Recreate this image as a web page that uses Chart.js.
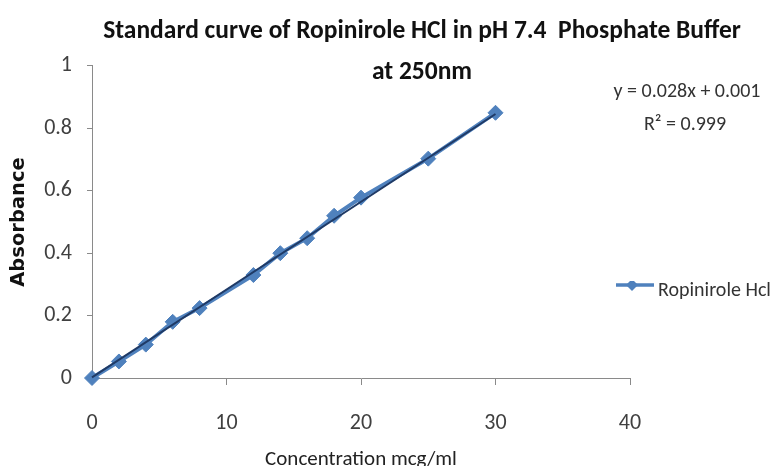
<!DOCTYPE html>
<html><head><meta charset="utf-8">
<script src="https://cdn.jsdelivr.net/npm/chart.js@4/dist/chart.umd.min.js"></script>
<style>html,body{margin:0;padding:0;background:#fff;overflow:hidden}#wrap{width:774px;height:466px}</style>
</head><body><div id="wrap"><canvas id="c" width="774" height="466"></canvas></div>
<script>
const concentrations = [0, 2, 4, 6, 8, 12, 14, 16, 18, 20, 25, 30];
const absorbance = [0, 0.053, 0.107, 0.18, 0.224, 0.33, 0.4, 0.448, 0.52, 0.578, 0.703, 0.85];
const trendX = [0, 30];
const trendY = [0.002, 0.846];
const xTicks = [0, 10, 20, 30, 40];
const xTickLabels = ['0', '10', '20', '30', '40'];
const yTicks = [0, 0.2, 0.4, 0.6, 0.8, 1];
const yTickLabels = ['0', '0.2', '0.4', '0.6', '0.8', '1'];
const seriesName = 'Ropinirole Hcl';
const titleLines = ['Standard curve of Ropinirole HCl in pH 7.4  Phosphate Buffer', 'at 250nm'];
const equationLines = ['y = 0.028x + 0.001', 'R\u00B2 = 0.999'];
const xTitle = 'Concentration mcg/ml';
const yTitle = 'Absorbance';

const BLUE = '#4F81BD';
const NAVY = '#1F3A66';
const AXIS = '#8A8A8A';
const CAL = 'Carlito, "Liberation Sans", sans-serif';

// legend symbol: line with a diamond (drawn slightly above the text middle)
const sym = document.createElement('canvas');
sym.width = 46; sym.height = 26;
(function(){
  const g = sym.getContext('2d');
  g.strokeStyle = BLUE; g.lineWidth = 3.5;
  g.beginPath(); g.moveTo(1, 7); g.lineTo(45, 7); g.stroke();
  g.fillStyle = BLUE;
  g.beginPath(); g.moveTo(17, 7); g.lineTo(23, 1); g.lineTo(29, 7); g.lineTo(23, 13); g.closePath(); g.fill();
})();

const placePlugin = {
  id: 'place',
  afterLayout(chart) {
    const t = chart.titleBlock;
    if (t) { t.left = 70; t.right = 774; }
    const lg = chart.legend;
    if (lg) { lg.left = 616; lg.top = 281; lg.right = 900; lg.bottom = 305; }
  },
  afterDraw(chart) {
    const ctx = chart.ctx;
    ctx.save();
    ctx.font = '20px ' + CAL;
    ctx.fillStyle = '#333333';
    ctx.textAlign = 'center';
    ctx.textBaseline = 'middle';
    ctx.fillText(equationLines[0], 687, 92);
    ctx.fillText(equationLines[1], 685, 125);
    ctx.restore();
  }
};

const chart = new Chart(document.getElementById('c'), {
  type: 'line',
  data: {
    datasets: [
      {
        label: 'Linear (' + seriesName + ')',
        data: trendX.map((x, i) => ({ x: x, y: trendY[i] })),
        borderColor: NAVY, borderWidth: 2, pointRadius: 0, pointHoverRadius: 0, order: 0, clip: false
      },
      {
        label: seriesName,
        data: concentrations.map((x, i) => ({ x: x, y: absorbance[i] })),
        borderColor: BLUE, backgroundColor: BLUE, borderWidth: 4,
        pointStyle: 'rectRot', pointRadius: 7.5, pointHoverRadius: 7.5,
        pointBackgroundColor: BLUE, pointBorderColor: BLUE, pointBorderWidth: 1,
        tension: 0, order: 1, clip: false
      }
    ]
  },
  options: {
    responsive: false, animation: false, devicePixelRatio: 1,
    layout: { padding: { left: 0, top: 0, right: 144, bottom: 0 } },
    plugins: {
      title: {
        display: true, text: titleLines, color: '#111111',
        font: { family: CAL, size: 25.5, weight: 'bold', lineHeight: 1.584 },
        padding: { top: 11.7, bottom: -26.5 }
      },
      legend: {
        display: true, position: 'chartArea', align: 'start',
        labels: {
          usePointStyle: true, pointStyle: sym, pointStyleWidth: 32, padding: 0,
          color: '#333333', font: { family: CAL, size: 20 },
          filter: (item) => item.text === seriesName
        }
      },
      tooltip: { enabled: false }
    },
    scales: {
      x: {
        type: 'linear', min: 0, max: 40,
        afterFit: (s) => { s.height = 88; },
        afterBuildTicks: (s) => { s.ticks = xTicks.map(v => ({ value: v })); },
        ticks: {
          color: '#404040', font: { family: CAL, size: 22 }, padding: 25, maxRotation: 0,
          callback: (v) => { const i = xTicks.indexOf(v); return i >= 0 ? xTickLabels[i] : ''; }
        },
        grid: { display: true, drawOnChartArea: false, drawTicks: true, tickLength: 7, color: AXIS },
        border: { display: true, color: AXIS, width: 1 },
        title: { display: true, text: xTitle, color: '#222222', font: { family: CAL, size: 21 }, padding: { top: 0, bottom: -6 } }
      },
      y: {
        type: 'linear', min: 0, max: 1,
        afterFit: (s) => { s.width = 92; },
        afterBuildTicks: (s) => { s.ticks = yTicks.map(v => ({ value: v })); },
        ticks: {
          color: '#404040', font: { family: CAL, size: 22 }, padding: 15,
          callback: (v) => { const i = yTicks.findIndex(t => Math.abs(t - v) < 1e-9); return i >= 0 ? yTickLabels[i] : ''; }
        },
        grid: { display: true, drawOnChartArea: false, drawTicks: true, tickLength: 5, color: AXIS },
        border: { display: true, color: AXIS, width: 1 },
        title: {
          display: true, text: yTitle, color: '#111111',
          font: { family: '"DejaVu Sans", Verdana, sans-serif', size: 19.5, weight: 'bold' },
          padding: { top: 7, bottom: 0 }
        }
      }
    }
  },
  plugins: [placePlugin]
});
</script>
</body></html>
